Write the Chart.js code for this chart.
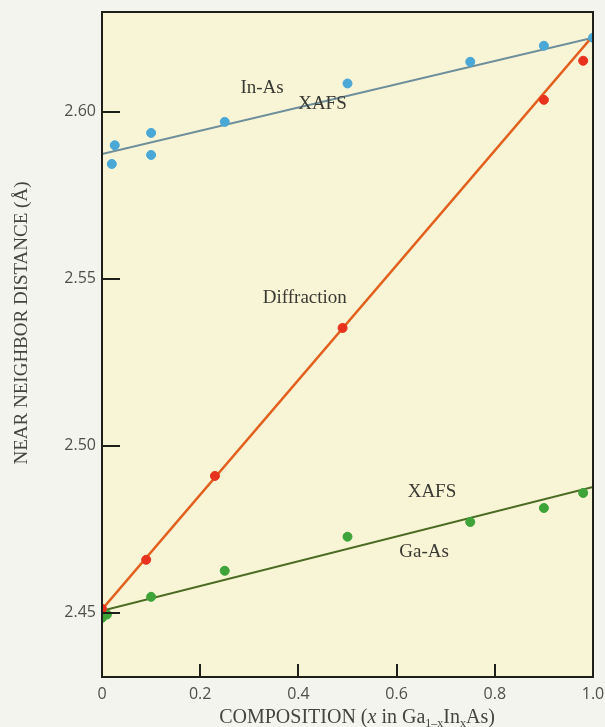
<!DOCTYPE html>
<html>
<head>
<meta charset="utf-8">
<script src="https://cdn.jsdelivr.net/npm/chart.js@4.4.1/dist/chart.umd.min.js"></script>
<style>
  html, body { margin: 0; padding: 0; background: #f4f4ee; }
  #wrap { width: 605px; height: 727px; position: relative; }
</style>
</head>
<body>
<div id="wrap"><canvas id="c"></canvas></div>
<script>
// ---- Data ----
const inAsX = [0.02, 0.026, 0.10, 0.10, 0.25, 0.50, 0.75, 0.90, 1.00];
const inAsY = [2.5844, 2.5900, 2.5937, 2.5871, 2.5970, 2.6085, 2.6150, 2.6198, 2.6222];

const diffX = [0.00, 0.09, 0.23, 0.49, 0.90, 0.98];
const diffY = [2.4512, 2.4659, 2.4910, 2.5353, 2.6036, 2.6153];

const gaAsX = [0.00, 0.01, 0.10, 0.25, 0.50, 0.75, 0.90, 0.98];
const gaAsY = [2.4485, 2.4495, 2.4548, 2.4626, 2.4728, 2.4772, 2.4814, 2.4859];

// fitted lines (end points at x = 0 and x = 1)
const fitX = [0, 1];
const inAsFit = [2.5874, 2.6222];
const diffFit = [2.4510, 2.6228];
const gaAsFit = [2.4506, 2.4877];

const xTicks = [0, 0.2, 0.4, 0.6, 0.8, 1.0];
const yTicks = [2.45, 2.50, 2.55, 2.60];

// text labels placed in data units
const labelTexts = ['In-As', 'XAFS', 'Diffraction', 'XAFS', 'Ga-As'];
const labelX = [0.326, 0.449, 0.413, 0.672, 0.656];
const labelY = [2.6070, 2.6024, 2.5443, 2.4862, 2.4683];

const yTitle = 'NEAR NEIGHBOR DISTANCE (Å)';
// x title parts: [text, style]  style: n = normal, i = italic, s = subscript
const xTitleParts = [['COMPOSITION (', 'n'], ['x', 'i'], [' in Ga', 'n'], ['1\u2013x', 's'], ['In', 'n'], ['x', 's'], ['As)', 'n']];

const pts = (xs, ys) => xs.map((x, i) => ({ x: x, y: ys[i] }));

const SERIF = '"Liberation Serif", "DejaVu Serif", serif';

const decorPlugin = {
  id: 'decor',
  beforeDraw(chart) {
    const { ctx, chartArea: a } = chart;
    ctx.save();
    ctx.fillStyle = '#f4f4ee';
    ctx.fillRect(0, 0, chart.width, chart.height);
    ctx.fillStyle = '#f8f5d6';
    ctx.fillRect(a.left, a.top, a.right - a.left, a.bottom - a.top);
    ctx.restore();
  },
  afterDatasetsDraw(chart) {
    const { ctx, chartArea: a, scales } = chart;
    const xs = scales.x, ys = scales.y;
    ctx.save();
    // frame
    ctx.strokeStyle = '#1e1e1a';
    ctx.lineWidth = 2;
    ctx.strokeRect(a.left, a.top, a.right - a.left, a.bottom - a.top);
    // inward ticks
    ctx.beginPath();
    yTicks.forEach(v => {
      const py = Math.round(ys.getPixelForValue(v));
      ctx.moveTo(a.left, py); ctx.lineTo(a.left + 18, py);
    });
    xTicks.forEach(v => {
      const px = Math.round(xs.getPixelForValue(v));
      ctx.moveTo(px, a.bottom); ctx.lineTo(px, a.bottom - 13);
    });
    ctx.stroke();
    // labels
    ctx.fillStyle = '#3a3a34';
    ctx.font = '19px ' + SERIF;
    ctx.textAlign = 'center';
    ctx.textBaseline = 'middle';
    labelTexts.forEach((t, i) => {
      ctx.fillText(t, xs.getPixelForValue(labelX[i]), ys.getPixelForValue(labelY[i]));
    });
    // y title
    ctx.save();
    ctx.translate(22, 323);
    ctx.rotate(-Math.PI / 2);
    ctx.font = '19px ' + SERIF;
    ctx.fillStyle = '#444440';
    ctx.fillText(yTitle, 0, 0);
    ctx.restore();
    // x title with italic and subscripts
    const fontFor = s => s === 'i' ? 'italic 20px ' + SERIF : (s === 's' ? '12px ' + SERIF : '20px ' + SERIF);
    let total = 0;
    xTitleParts.forEach(([t, s]) => { ctx.font = fontFor(s); total += ctx.measureText(t).width; });
    let cx = 357 - total / 2;
    const baseY = 723;
    ctx.textAlign = 'left';
    ctx.textBaseline = 'alphabetic';
    ctx.fillStyle = '#444440';
    xTitleParts.forEach(([t, s]) => {
      ctx.font = fontFor(s);
      ctx.fillText(t, cx, s === 's' ? baseY + 4 : baseY);
      cx += ctx.measureText(t).width;
    });
    ctx.restore();
  }
};

const noPad = s => { s.paddingLeft = 0; s.paddingRight = 0; s.paddingTop = 0; s.paddingBottom = 0; };

new Chart(document.getElementById('c'), {
  type: 'scatter',
  data: {
    datasets: [
      { label: 'In-As XAFS', data: pts(inAsX, inAsY), backgroundColor: '#4aa8d6', borderColor: '#4aa8d6', pointRadius: 4.5, order: 0 },
      { label: 'Diffraction', data: pts(diffX, diffY), backgroundColor: '#e8321e', borderColor: '#e8321e', pointRadius: 4.5, order: 0 },
      { label: 'Ga-As XAFS', data: pts(gaAsX, gaAsY), backgroundColor: '#3ea43a', borderColor: '#3ea43a', pointRadius: 4.5, order: 0 },
      { type: 'line', label: 'In-As fit', data: pts(fitX, inAsFit), borderColor: '#6d8e9a', borderWidth: 2, pointRadius: 0, order: 1 },
      { type: 'line', label: 'Diffraction fit', data: pts(fitX, diffFit), borderColor: '#e2601e', borderWidth: 2.5, pointRadius: 0, order: 1 },
      { type: 'line', label: 'Ga-As fit', data: pts(fitX, gaAsFit), borderColor: '#4b6a22', borderWidth: 2, pointRadius: 0, order: 1 }
    ]
  },
  plugins: [decorPlugin],
  options: {
    responsive: true,
    maintainAspectRatio: false,
    animation: false,
    layout: { padding: { top: 12, right: 12, left: 0, bottom: 0 } },
    plugins: { legend: { display: false }, tooltip: { enabled: false } },
    scales: {
      x: {
        type: 'linear', min: 0, max: 1.0,
        afterBuildTicks: s => { s.ticks = xTicks.map(v => ({ value: v })); },
        afterFit: s => { s.height = 50; noPad(s); },
        grid: { display: false, drawTicks: false },
        border: { display: false },
        ticks: {
          padding: 8, color: '#505049', maxRotation: 0, autoSkip: false,
          font: { family: '"Open Sans", "Liberation Sans", sans-serif', size: 16, weight: 400 },
          callback: v => v === 0 ? '0' : v.toFixed(1)
        }
      },
      y: {
        type: 'linear', min: 2.4308, max: 2.6299,
        afterBuildTicks: s => { s.ticks = yTicks.map(v => ({ value: v })); },
        afterFit: s => { s.width = 102; noPad(s); },
        grid: { display: false, drawTicks: false },
        border: { display: false },
        ticks: {
          padding: 6, color: '#505049', autoSkip: false,
          font: { family: '"Open Sans", "Liberation Sans", sans-serif', size: 16, weight: 400 },
          callback: v => v.toFixed(2)
        }
      }
    }
  }
});
</script>
</body>
</html>
